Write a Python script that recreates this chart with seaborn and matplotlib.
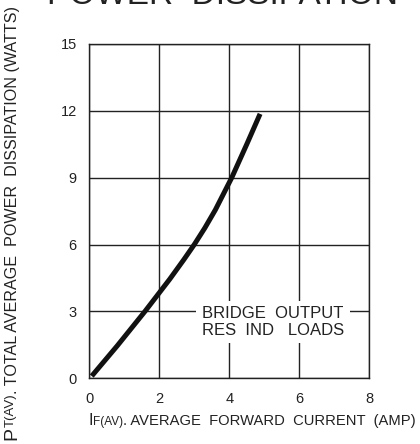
import matplotlib
matplotlib.use("Agg")
import matplotlib.pyplot as plt
import seaborn as sns
import pandas as pd

# Curve
current = [0.07, 0.8, 1.59, 2.3, 2.7, 3.0, 3.3, 3.6, 4.07, 4.5, 4.88]
power = [0.1, 1.46, 3.0, 4.45, 5.32, 6.0, 6.74, 7.55, 9.0, 10.5, 11.86]

x_ticks = [0, 2, 4, 6, 8]
y_ticks = [0, 3, 6, 9, 12, 15]

sns.set_theme(style="white")
plt.rcParams['font.family'] = ['Liberation Sans', 'DejaVu Sans']

fig = plt.figure(figsize=(4.2, 4.44), dpi=100)
ax = fig.add_axes([0.2126, 0.148, 0.6667, 0.7532])

df = pd.DataFrame({'current': current, 'power': power})
sns.lineplot(data=df, x='current', y='power', ax=ax, color='#111111',
             linewidth=3.6, solid_capstyle='butt', solid_joinstyle='round',
             zorder=3)

ax.set_xlim(0, 8)
ax.set_ylim(0, 15)
ax.set_xticks(x_ticks)
ax.set_yticks(y_ticks)
ax.tick_params(axis='both', length=0, labelsize=10.5, colors='#222222')
ax.tick_params(axis='x', pad=10)
ax.tick_params(axis='y', pad=9)
ax.grid(True, color='#222222', linewidth=1.0)
for s in ax.spines.values():
    s.set_color('#222222')
    s.set_linewidth(1.0)
ax.set_xlabel('')
ax.set_ylabel('')

# Annotation box covering grid lines
ax.text(5.25, 2.52, 'BRIDGE  OUTPUT\nRES  IND   LOADS', ha='center', va='center',
        fontsize=12, color='#222222', linespacing=1.12, zorder=4,
        bbox=dict(facecolor='white', edgecolor='none', pad=4))

# Title (cut at top edge as in reference)
fig.text(0.53, 0.992, 'POWER  DISSIPATION', ha='center', va='baseline',
         fontsize=24, color='#222222')

# X label with subscript-like pieces
xl = fig.text(0.21, 0.043, 'I', fontsize=11.5, color='#222222', va='baseline')
fig.canvas.draw()
r = fig.canvas.get_renderer()
bb = xl.get_window_extent(r)
x2 = fig.text((bb.x1) / fig.bbox.width, 0.043, 'F(AV)', fontsize=8.5,
              color='#222222', va='baseline')
bb2 = x2.get_window_extent(r)
fig.text((bb2.x1) / fig.bbox.width, 0.043,
         '. AVERAGE  FORWARD  CURRENT  (AMP)', fontsize=10.6,
         color='#222222', va='baseline')

# Y label, rotated
yl = fig.text(0.008, 0.008, 'P', fontsize=14, color='#222222',
              rotation=90, va='bottom', ha='left')
fig.canvas.draw()
bb = yl.get_window_extent(r)
y2 = fig.text(0.012, bb.y1 / fig.bbox.height, 'T(AV)', fontsize=9.5,
              color='#222222', rotation=90, va='bottom', ha='left')
bb2 = y2.get_window_extent(r)
fig.text(0.012, bb2.y1 / fig.bbox.height,
         '. TOTAL AVERAGE  POWER  DISSIPATION (WATTS)', fontsize=11.6,
         color='#222222', rotation=90, va='bottom', ha='left')

fig.savefig('out.png', dpi=100)
